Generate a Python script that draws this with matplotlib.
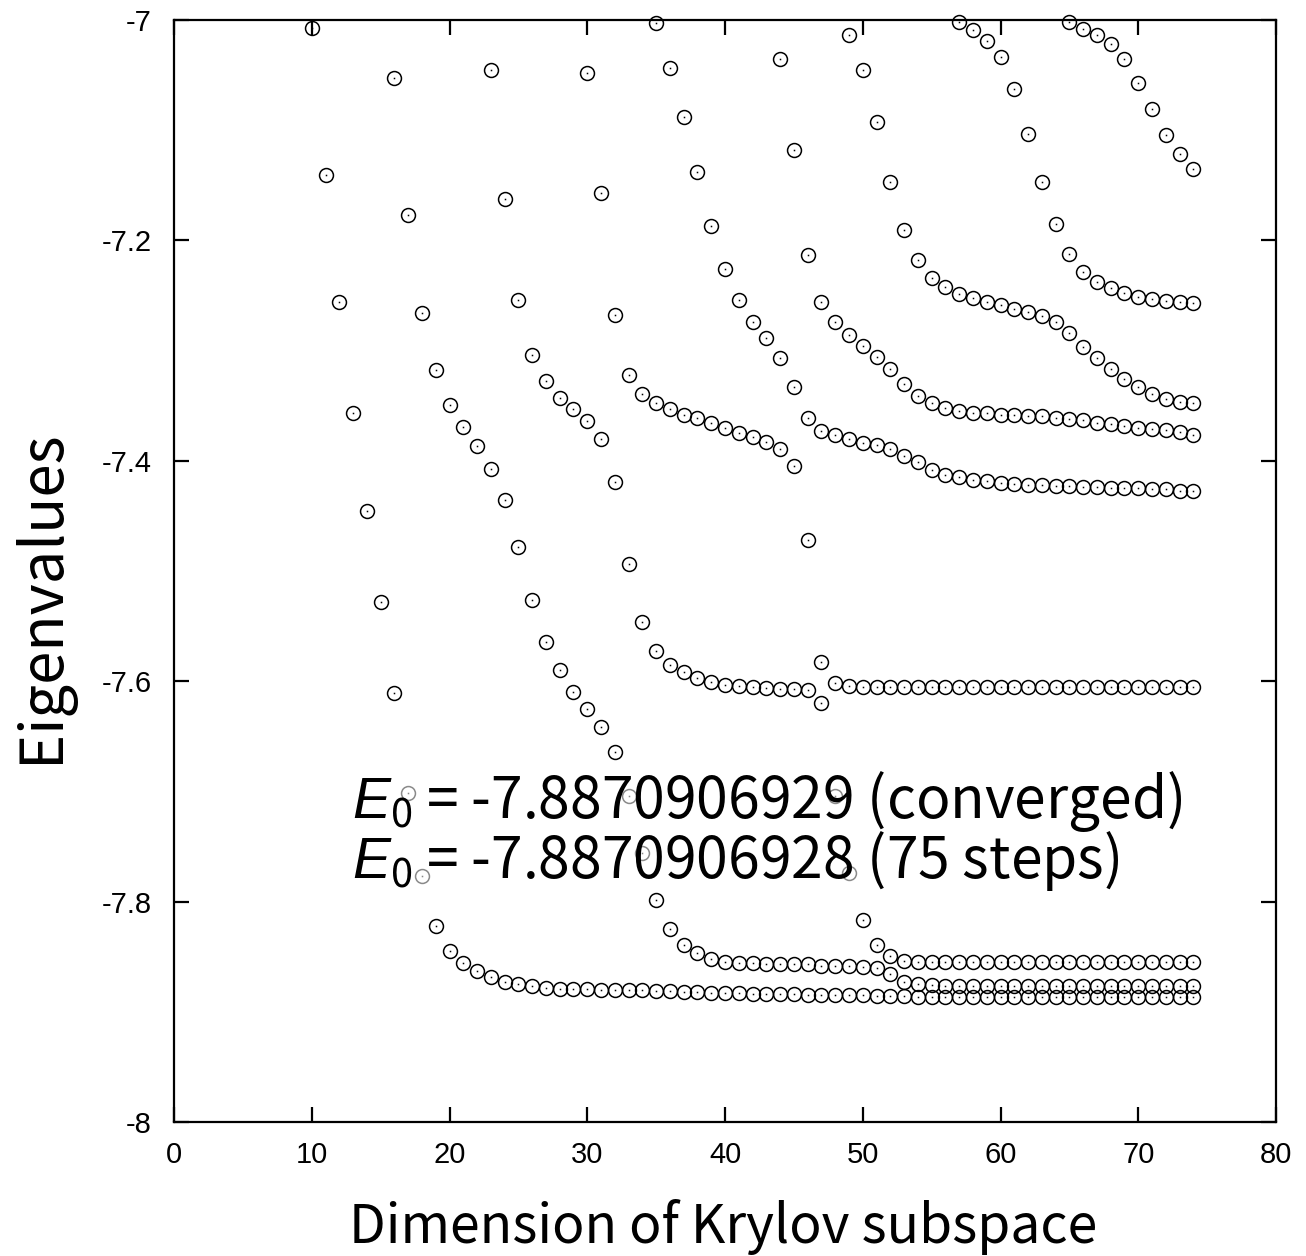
import matplotlib
matplotlib.use("Agg")
import matplotlib.pyplot as plt
import numpy as np

# Lanczos eigenvalues in [-8, -7], one list per branch (first Krylov step, values)
b1_start = 10
b1 = [-7.007, -7.141, -7.256, -7.357, -7.446, -7.528, -7.611, -7.701, -7.777, -7.822,
      -7.845, -7.856, -7.863, -7.868, -7.873, -7.875, -7.877, -7.878, -7.879, -7.879,
      -7.879, -7.880, -7.880, -7.880, -7.880, -7.881, -7.881, -7.882, -7.882, -7.883,
      -7.883, -7.883, -7.884, -7.884, -7.884, -7.884, -7.885, -7.885, -7.885, -7.885,
      -7.885, -7.886, -7.886, -7.886, -7.887, -7.887, -7.887, -7.887, -7.887, -7.887,
      -7.887, -7.887, -7.887, -7.887, -7.887, -7.887, -7.887, -7.887, -7.887, -7.887,
      -7.887, -7.887, -7.887, -7.887, -7.887]

b2_start = 16
b2 = [-7.053, -7.177, -7.266, -7.318, -7.349, -7.369, -7.387, -7.407, -7.436, -7.478,
      -7.526, -7.564, -7.590, -7.610, -7.625, -7.642, -7.664, -7.704, -7.756, -7.799,
      -7.825, -7.839, -7.847, -7.852, -7.855, -7.856, -7.856, -7.857, -7.857, -7.857,
      -7.857, -7.858, -7.858, -7.858, -7.859, -7.860, -7.866, -7.873, -7.875, -7.876,
      -7.877, -7.877, -7.877, -7.877, -7.877, -7.877, -7.877, -7.877, -7.877, -7.877,
      -7.877, -7.877, -7.877, -7.877, -7.877, -7.877, -7.877, -7.877, -7.877]

b3_start = 23
b3 = [-7.045, -7.162, -7.254, -7.304, -7.328, -7.343, -7.353, -7.364, -7.380, -7.419,
      -7.494, -7.546, -7.573, -7.585, -7.592, -7.597, -7.601, -7.603, -7.604, -7.605,
      -7.606, -7.607, -7.607, -7.608, -7.620, -7.704, -7.774, -7.817, -7.839, -7.849,
      -7.854, -7.855, -7.855, -7.855, -7.855, -7.855, -7.855, -7.855, -7.855, -7.855,
      -7.855, -7.855, -7.855, -7.855, -7.855, -7.855, -7.855, -7.855, -7.855, -7.855,
      -7.855, -7.855]

b4_start = 30
b4 = [-7.048, -7.157, -7.268, -7.322, -7.339, -7.348, -7.353, -7.358, -7.361, -7.366,
      -7.370, -7.375, -7.378, -7.383, -7.389, -7.405, -7.472, -7.583, -7.602, -7.604,
      -7.605, -7.605, -7.605, -7.605, -7.605, -7.605, -7.605, -7.605, -7.605, -7.605,
      -7.605, -7.605, -7.605, -7.605, -7.605, -7.605, -7.605, -7.605, -7.605, -7.605,
      -7.605, -7.605, -7.605, -7.605, -7.605]

b5_start = 35
b5 = [-7.003, -7.044, -7.088, -7.138, -7.187, -7.226, -7.254, -7.274, -7.289, -7.307,
      -7.333, -7.361, -7.373, -7.377, -7.380, -7.384, -7.386, -7.389, -7.396, -7.401,
      -7.408, -7.413, -7.415, -7.417, -7.418, -7.420, -7.421, -7.422, -7.422, -7.423,
      -7.423, -7.424, -7.424, -7.425, -7.425, -7.425, -7.426, -7.426, -7.427, -7.427]

b6_start = 44
b6 = [-7.035, -7.118, -7.213, -7.256, -7.274, -7.286, -7.296, -7.306, -7.317, -7.330,
      -7.341, -7.348, -7.352, -7.355, -7.357, -7.357, -7.358, -7.358, -7.359, -7.359,
      -7.361, -7.362, -7.363, -7.366, -7.367, -7.368, -7.370, -7.371, -7.372, -7.374,
      -7.377]

b7_start = 49
b7 = [-7.014, -7.045, -7.093, -7.147, -7.191, -7.218, -7.234, -7.242, -7.249, -7.252,
      -7.256, -7.259, -7.262, -7.265, -7.269, -7.274, -7.284, -7.297, -7.307, -7.317,
      -7.326, -7.333, -7.339, -7.344, -7.347, -7.348]

b8_start = 57
b8 = [-7.002, -7.009, -7.019, -7.034, -7.063, -7.103, -7.147, -7.185, -7.212, -7.229,
      -7.238, -7.243, -7.248, -7.251, -7.253, -7.255, -7.256, -7.257]

b9_start = 65
b9 = [-7.002, -7.008, -7.014, -7.022, -7.035, -7.057, -7.081, -7.104, -7.122, -7.135]

branches = [(b1_start, b1), (b2_start, b2), (b3_start, b3), (b4_start, b4), (b5_start, b5),
            (b6_start, b6), (b7_start, b7), (b8_start, b8), (b9_start, b9)]

x_ticks = [0, 10, 20, 30, 40, 50, 60, 70, 80]
y_ticks = [-8, -7.8, -7.6, -7.4, -7.2, -7]
y_tick_labels = ["-8", "-7.8", "-7.6", "-7.4", "-7.2", "-7"]

label_font = ["Noto Sans CJK JP", "DejaVu Sans"]
tick_font = "Liberation Sans"
plt.rcParams["mathtext.fontset"] = "custom"
plt.rcParams["mathtext.it"] = "Liberation Sans:italic"
plt.rcParams["mathtext.rm"] = "Noto Sans CJK JP"

W, H = 1306, 1256
fig = plt.figure(figsize=(W / 100, H / 100), dpi=100)
ax = fig.add_axes([174 / W, 1 - 1122 / H, 1102 / W, 1102 / H])

xs = np.concatenate([np.arange(s, s + len(v)) for s, v in branches])
ys = np.concatenate([np.array(v) for s, v in branches])

# points hidden behind the annotation come out grey in the original
behind = (ys > -7.79) & (ys < -7.69)
for mask, col in [(~behind, "black"), (behind, "#8a8a8a")]:
    ax.plot(xs[mask], ys[mask], "o", ms=10, mfc="none", mec=col, mew=1.1,
            clip_on=False, zorder=3)
    ax.plot(xs[mask], ys[mask], "s", ms=1.1, mfc=col, mew=0, clip_on=False, zorder=3)

ax.set_xlim(0, 80)
ax.set_ylim(-8, -7)
ax.set_xticks(x_ticks)
ax.set_yticks(y_ticks)
ax.set_yticklabels(y_tick_labels)
for sp in ax.spines.values():
    sp.set_linewidth(1.6)
ax.tick_params(direction="in", length=11, width=1.6, top=True, right=True,
               labelsize=21)
ax.tick_params(axis="x", pad=14)
ax.tick_params(axis="y", pad=16)
for lab in ax.get_xticklabels() + ax.get_yticklabels():
    lab.set_fontfamily(tick_font)

ax.text(12.9, -7.724, r"$E_0$ = -7.8870906929 (converged)", fontsize=41,
        family=label_font, va="baseline", ha="left", zorder=4)
ax.text(12.9, -7.7785, r"$E_0$ = -7.8870906928 (75 steps)", fontsize=41,
        family=label_font, va="baseline", ha="left", zorder=4)

fig.text(723 / W, 1 - 1243 / H, "Dimension of Krylov subspace", fontsize=38.5,
         family=label_font, ha="center", va="baseline")
fig.text(42 / W, 1 - 596 / H, "Eigenvalues", fontsize=43, family=label_font,
         rotation=90, ha="center", va="center")

fig.savefig("out.png", dpi=100)
